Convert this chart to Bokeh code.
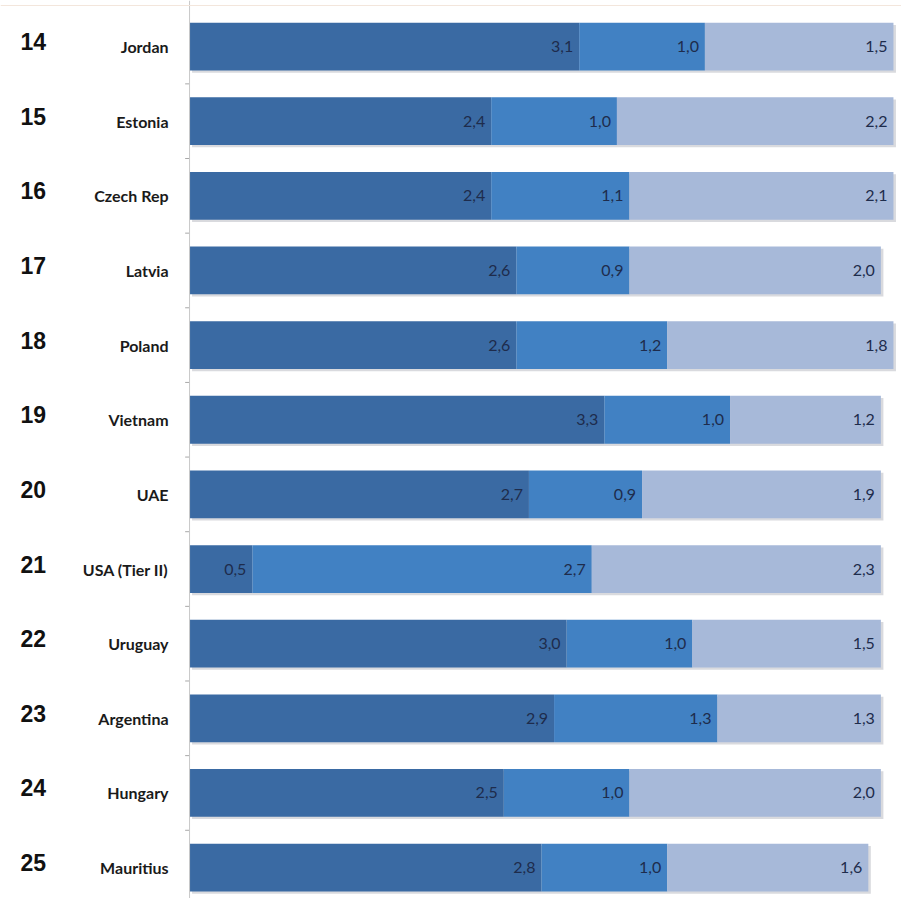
from bokeh.plotting import figure
from bokeh.models import Range1d, ColumnDataSource, Span
from bokeh.core.properties import value
from bokeh.embed import file_html
from bokeh.resources import INLINE

# Rankings 14-25: three stacked components per country
ranks = ["14", "15", "16", "17", "18", "19", "20", "21", "22", "23", "24", "25"]
countries = ["Jordan", "Estonia", "Czech Rep", "Latvia", "Poland", "Vietnam",
             "UAE", "USA (Tier II)", "Uruguay", "Argentina", "Hungary", "Mauritius"]
part_a = [3.1, 2.4, 2.4, 2.6, 2.6, 3.3, 2.7, 0.5, 3.0, 2.9, 2.5, 2.8]
part_b = [1.0, 1.0, 1.1, 0.9, 1.2, 1.0, 0.9, 2.7, 1.0, 1.3, 1.0, 1.0]
part_c = [1.5, 2.2, 2.1, 2.0, 1.8, 1.2, 1.9, 2.3, 1.5, 1.3, 2.0, 1.6]

colors = ["#3a6aa3", "#4181c3", "#a7b9d9"]
label_color = "#1e2c4c"

W, H = 901, 898
p = figure(width=W, height=H, output_backend="svg", toolbar_location=None,
           x_range=Range1d(-1.504, 5.664), y_range=Range1d(11.414, -0.617),
           min_border=0, min_border_left=0, min_border_right=0,
           min_border_top=0, min_border_bottom=0)
p.axis.visible = False
p.grid.visible = False
p.outline_line_color = None
p.background_fill_color = "white"
p.border_fill_color = "white"

ys = list(range(len(countries)))
a_end = part_a
b_end = [a + b for a, b in zip(part_a, part_b)]
c_end = [a + b + c for a, b, c in zip(part_a, part_b, part_c)]
lefts = [[0.0] * len(ys), a_end, b_end]
rights = [a_end, b_end, c_end]
vals = [part_a, part_b, part_c]

bar_h = 0.64
# soft drop shadow under each full bar
p.hbar(y=[y + 0.03 for y in ys], left=0.02, right=[c + 0.02 for c in c_end],
       height=bar_h, fill_color="#b9bcc2", fill_alpha=0.55, line_color=None)

for i in range(3):
    src = ColumnDataSource(dict(y=ys, left=lefts[i], right=rights[i],
                                lab=[f"{v:.1f}".replace(".", ",") for v in vals[i]]))
    p.hbar(y="y", left="left", right="right", height=bar_h, source=src,
           fill_color=colors[i], line_color=None)
    p.text(x="right", y="y", text="lab", source=src, x_offset=-6,
           text_align="right", text_baseline="middle",
           text_font=value("Lato"), text_font_size="16px",
           text_color=label_color)

# category axis line with ticks between rows
p.add_layout(Span(location=0, dimension="height", line_color="#c8c8c8", line_width=1))
p.add_layout(Span(location=-0.55, dimension="width", line_color="#f3e6dc", line_width=1))
half = [y + 0.5 for y in ys]
p.segment(x0=-0.035, x1=0, y0=half, y1=half, line_color="#a8a8a8", line_width=1)

lab_src = ColumnDataSource(dict(x=[0.0] * len(ys), y=ys, rank=ranks, name=countries))
p.text(x="x", y="y", text="name", source=lab_src, x_offset=-21,
       text_align="right", text_baseline="middle",
       text_font=value("Lato"), text_font_style="bold",
       text_font_size="16px", text_color="#1a1a1a")
p.text(x="x", y="y", text="rank", source=lab_src, x_offset=-169, y_offset=-5,
       text_align="left", text_baseline="middle",
       text_font=value("Liberation Sans"), text_font_style="bold",
       text_font_size="23px", text_color="#111111")

open("out.html", "w").write(file_html(p, INLINE))
